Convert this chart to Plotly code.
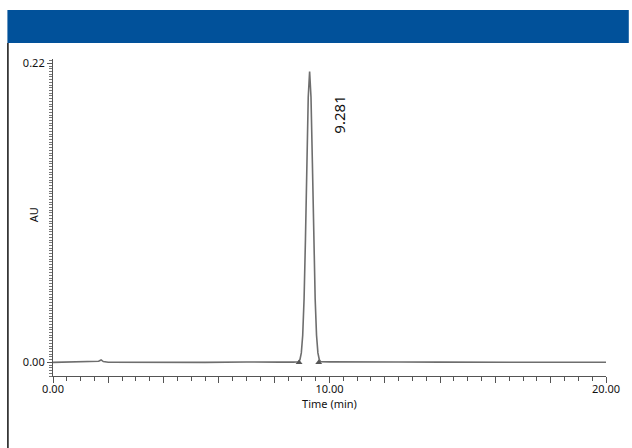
import plotly.graph_objects as go

# Chromatogram trace (time in min, absorbance in AU)
time_min = [0.0, 0.8, 1.5, 1.65, 1.74, 1.82, 2.0, 3.0, 4.0, 4.2, 5.5, 7.0, 7.4, 8.2, 8.7,
            8.881, 8.931, 8.981, 9.031, 9.081, 9.131, 9.181, 9.231, 9.281,
            9.331, 9.381, 9.431, 9.481, 9.531, 9.581, 9.631, 9.681,
            10.0, 11.0, 12.5, 14.0, 15.5, 16.5, 17.5, 18.5, 19.5, 20.0]
absorbance = [0.0, 0.0002, 0.0003, 0.0008, 0.0018, 0.0006, 0.0001, 0.0, 0.0003, 0.0001,
              0.0, 0.0003, 0.0001, 0.0002, 0.0002,
              0.0005, 0.002, 0.007, 0.020, 0.047, 0.091, 0.147, 0.195, 0.214,
              0.195, 0.147, 0.091, 0.047, 0.020, 0.007, 0.002, 0.0005,
              0.0004, 0.0002, 0.0003, 0.0002, 0.0001, 0.0003, 0.0002, 0.0001, 0.0002, 0.0001]

# Integration start / end markers
marker_time = [8.90, 9.61]
marker_au = [0.0, 0.0]

peak_label = "9.281"
peak_time = 9.281
peak_label_au = 0.182

x_tick_vals = [0, 2, 4, 6, 8, 10, 12, 14, 16, 18, 20]
x_tick_text = ["0.00", "", "", "", "", "10.00", "", "", "", "", "20.00"]
y_tick_vals = [0.0, 0.22]
y_tick_text = ["0.00", "0.22"]

x_range = [0, 20]
y_range = [-0.010, 0.2232]

FONT = "Noto Sans"
AXIS_COLOR = "#555555"
LINE_COLOR = "#6e6e6e"

fig = go.Figure()
fig.add_trace(go.Scatter(
    x=time_min, y=absorbance, mode="lines",
    line=dict(color=LINE_COLOR, width=1.6),
    hoverinfo="skip", showlegend=False,
))
fig.add_trace(go.Scatter(
    x=marker_time, y=marker_au, mode="markers",
    marker=dict(symbol="triangle-up", size=6, color="#555555"),
    hoverinfo="skip", showlegend=False,
))

fig.add_annotation(
    x=peak_time, y=peak_label_au, text=peak_label, textangle=-90,
    showarrow=False, xshift=29,
    font=dict(family=FONT, size=15, color="#111111"),
)

W, H = 632, 448
L, R, T, B = 53, 21, 59, 72
pw, ph = W - L - R, H - T - B

def px(xp):
    return (xp - L) / pw

def py(yp):
    return (H - B - yp) / ph

fig.add_annotation(
    xref="paper", yref="paper", x=px(33), y=py(215), text="AU", textangle=-90,
    showarrow=False, xanchor="center", yanchor="middle",
    font=dict(family=FONT, size=11, color="#111111"),
)

# Blue header banner and left frame line
fig.add_shape(type="rect", xref="paper", yref="paper",
              x0=px(7), x1=px(634), y0=py(43), y1=py(10),
              fillcolor="#01519A", line=dict(width=0), layer="above")
fig.add_shape(type="line", xref="paper", yref="paper",
              x0=px(7.5), x1=px(7.5), y0=py(43), y1=py(450),
              line=dict(color="#111111", width=1.5))

fig.update_layout(
    width=W, height=H,
    margin=dict(l=L, r=R, t=T, b=B),
    paper_bgcolor="white", plot_bgcolor="white",
    font=dict(family=FONT, size=11, color="#111111"),
    xaxis=dict(
        range=x_range, tickmode="array", tickvals=x_tick_vals, ticktext=x_tick_text,
        ticks="outside", ticklen=6, tickwidth=1, tickcolor=AXIS_COLOR,
        showline=True, linecolor=AXIS_COLOR, linewidth=1.2,
        showgrid=False, zeroline=False, ticklabelstandoff=-3,
        minor=dict(tickmode="linear", tick0=0, dtick=0.5, ticks="outside",
                   ticklen=3.5, tickcolor=AXIS_COLOR, showgrid=False),
        title=dict(text="Time (min)", standoff=4, font=dict(size=11)),
        tickfont=dict(size=11),
    ),
    yaxis=dict(
        range=y_range, tickmode="array", tickvals=y_tick_vals, ticktext=y_tick_text,
        ticks="outside", ticklen=5, tickwidth=1, tickcolor=AXIS_COLOR,
        showline=True, linecolor=AXIS_COLOR, linewidth=1.2,
        showgrid=False, zeroline=False,
        minor=dict(tickmode="linear", tick0=0, dtick=0.002, ticks="outside",
                   ticklen=3, tickcolor="#777777", showgrid=False),
        tickfont=dict(size=11),
    ),
)

fig.write_html("out.html", config={"displayModeBar": False},
               post_script="document.body.style.margin='0';")
